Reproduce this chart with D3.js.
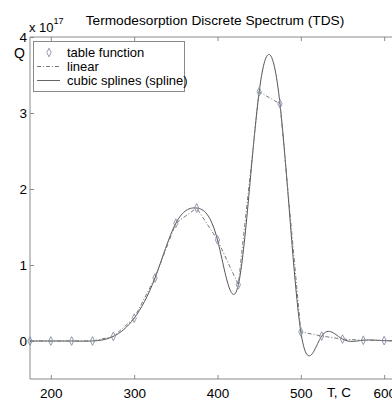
<!DOCTYPE html>
<html>
<head>
<meta charset="utf-8">
<script src="https://cdn.jsdelivr.net/npm/d3@7"></script>
<style>
  body { margin: 0; background: #fff; }
  svg text { font-family: "Liberation Sans", Arial, sans-serif; fill: #000; }
</style>
</head>
<body>
<div id="chart"></div>
<script>
// table function samples (Q in units of 1e17)
const temps = [175, 200, 225, 250, 275, 300, 325, 350, 375, 400, 425, 450, 475, 500, 525, 550, 575, 600, 625];
const qValues = [0, 0, 0, 0, 0.06, 0.30, 0.83, 1.55, 1.75, 1.33, 0.74, 3.28, 3.12, 0.12, 0.065, 0.025, 0.01, 0.005, 0];
const xTicks = [200, 300, 400, 500, 600];
const yTicks = [0, 1, 2, 3, 4];
const legendLabels = ["table function", "linear", "cubic splines (spline)"];

const width = 392, height = 401;
const margin = {top: 37, left: 30, bottom: 22};

const data = temps.map((t, i) => ({t: t, q: qValues[i]}));

const x = d3.scaleLinear().domain([175, 625]).range([margin.left, margin.left + 375]);
const y = d3.scaleLinear().domain([-0.5, 4]).range([height - margin.bottom, margin.top]);

const svg = d3.select("#chart").append("svg")
    .attr("width", width)
    .attr("height", height);

const axisColor = "#8a8a8a";

// box lines
svg.append("line").attr("x1", x(175)).attr("x2", x(625)).attr("y1", y(4)).attr("y2", y(4))
    .attr("stroke", axisColor);
svg.append("line").attr("x1", x(175)).attr("x2", x(625)).attr("y1", y(-0.5)).attr("y2", y(-0.5))
    .attr("stroke", axisColor);
svg.append("line").attr("x1", x(175)).attr("x2", x(175)).attr("y1", y(-0.5)).attr("y2", y(4))
    .attr("stroke", axisColor);

// bottom axis (inward ticks)
const xAxis = svg.append("g")
    .attr("transform", `translate(0,${y(-0.5)})`)
    .call(d3.axisBottom(x).tickValues(xTicks).tickSizeInner(-4).tickSizeOuter(0).tickPadding(9));
xAxis.select(".domain").remove();
xAxis.selectAll("line").attr("stroke", axisColor);
xAxis.selectAll("text").attr("font-size", 13.5).attr("fill", "#000");

// top ticks
const topAxis = svg.append("g")
    .attr("transform", `translate(0,${y(4)})`)
    .call(d3.axisTop(x).tickValues(xTicks).tickSizeInner(-4).tickSizeOuter(0).tickFormat(""));
topAxis.select(".domain").remove();
topAxis.selectAll("line").attr("stroke", axisColor);

// left axis (inward ticks)
const yAxis = svg.append("g")
    .attr("transform", `translate(${x(175)},0)`)
    .call(d3.axisLeft(y).tickValues(yTicks).tickFormat(d3.format("d"))
      .tickSizeInner(-4).tickSizeOuter(0).tickPadding(3));
yAxis.select(".domain").remove();
yAxis.selectAll("line").attr("stroke", axisColor);
yAxis.selectAll("text").attr("font-size", 13.5).attr("fill", "#000");

// spline curve
const spline = d3.line().x(d => x(d.t)).y(d => y(d.q)).curve(d3.curveNatural);
svg.append("path")
    .datum(data)
    .attr("fill", "none")
    .attr("stroke", "#555")
    .attr("stroke-width", 1)
    .attr("d", spline);

// linear interpolation
const linear = d3.line().x(d => x(d.t)).y(d => y(d.q));
svg.append("path")
    .datum(data)
    .attr("fill", "none")
    .attr("stroke", "#777")
    .attr("stroke-width", 1)
    .attr("stroke-dasharray", "4,2,1,2")
    .attr("d", linear);

// markers
const diamond = d3.symbol().type(d3.symbolDiamond).size(22);
svg.append("g").selectAll("path")
    .data(data)
    .join("path")
    .attr("d", diamond)
    .attr("transform", d => `translate(${x(d.t)},${y(d.q)}) scale(0.85,1)`)
    .attr("fill", "none")
    .attr("stroke", "#8a90a8")
    .attr("stroke-width", 1);

// legend
const legend = svg.append("g");
legend.append("rect")
    .attr("x", 33.5).attr("y", 41.5).attr("width", 151).attr("height", 50)
    .attr("fill", "#fff").attr("stroke", axisColor);
legendLabels.forEach((lab, i) => {
  const ly = 52.5 + i * 14;
  if (i === 0) {
    legend.append("path").attr("d", diamond)
      .attr("transform", `translate(49,${ly}) scale(0.85,1)`)
      .attr("fill", "none").attr("stroke", "#8a90a8");
  } else {
    legend.append("line").attr("x1", 37).attr("x2", 60).attr("y1", ly).attr("y2", ly)
      .attr("stroke", i === 1 ? "#777" : "#666")
      .attr("stroke-dasharray", i === 1 ? "4,2,1,2" : null);
  }
  legend.append("text").attr("x", 67).attr("y", ly + 4.5).attr("font-size", 13).text(lab);
});

// title and labels
svg.append("text").attr("x", 215).attr("y", 25).attr("text-anchor", "middle")
    .attr("font-size", 13.7).text("Termodesorption Discrete Spectrum (TDS)");
svg.append("text").attr("x", 14).attr("y", 58).attr("font-size", 14).text("Q");
const expo = svg.append("text").attr("x", 29).attr("y", 32).attr("font-size", 13);
expo.append("tspan").text("x 10");
expo.append("tspan").attr("dy", -8).attr("font-size", 9).text("17");
svg.append("text").attr("x", 327).attr("y", 397).attr("font-size", 13.5).text("T, C");
</script>
</body>
</html>
